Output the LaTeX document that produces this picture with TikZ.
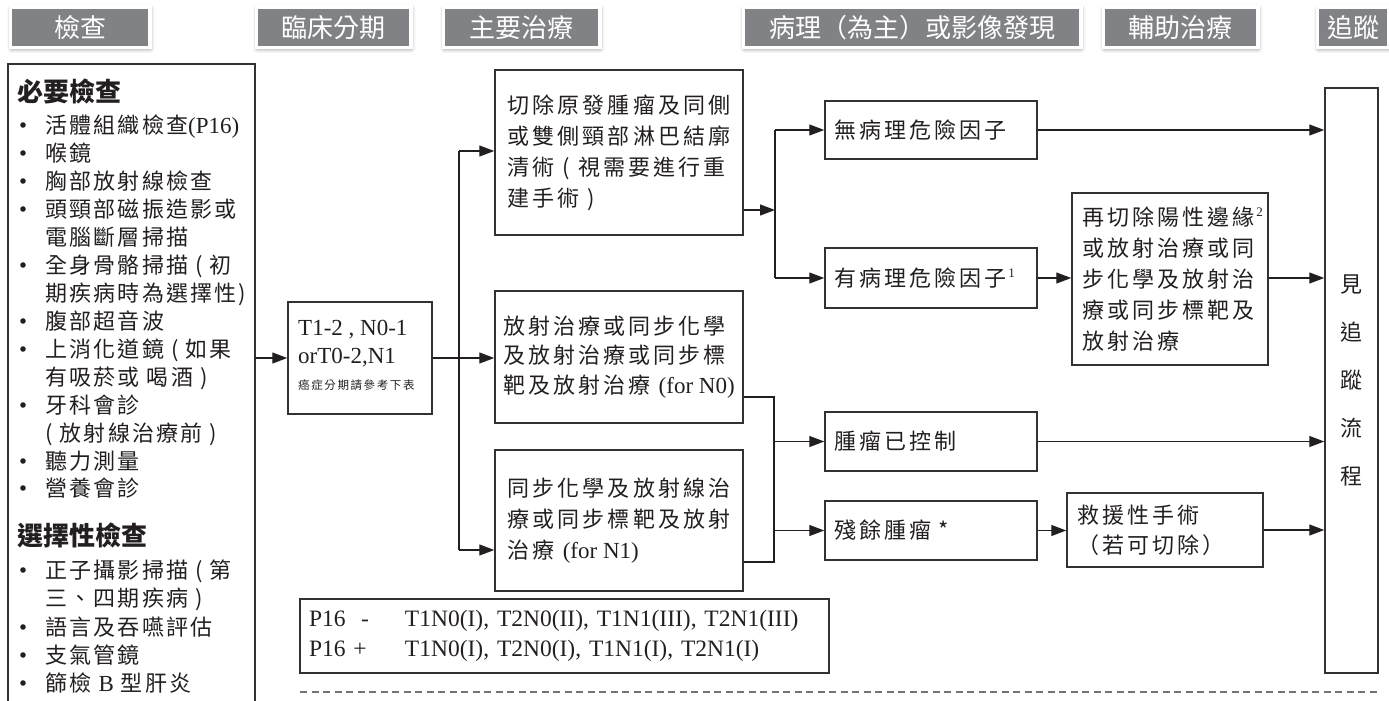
\documentclass[tikz,border=0pt]{standalone}
\usepackage{fontspec}
\setmainfont{Liberation Serif}
\newfontfamily\cjk{Noto Sans CJK TC}[LetterSpace=14]
\newfontfamily\cjkl{Noto Sans CJK TC}[LetterSpace=10]
\newfontfamily\cjkt{Noto Sans CJK TC}
\usetikzlibrary{arrows.meta,shadows.blur}
\definecolor{tabgray}{RGB}{128,130,133}
\definecolor{ink}{RGB}{35,31,32}
\definecolor{edge}{RGB}{50,50,50}
\definecolor{dashc}{RGB}{115,115,115}
\newcommand\cjkbody{\cjk\fontsize{22}{31}\selectfont}
\newcommand\lat{\rmfamily\fontsize{23}{31}\selectfont}
\newcommand\supnum[1]{\rlap{\kern2pt\rmfamily\fontsize{13}{13}\selectfont\raisebox{9pt}{#1}}}
\begin{document}
\begin{tikzpicture}[x=1pt,y=-1pt,
  box/.style={draw=edge, line width=1.5pt, inner sep=0pt, text=ink, font=\cjkbody},
  arr/.style={draw=ink, line width=1.3pt, -{Triangle[length=15pt,width=11pt]}},
  ln/.style={draw=ink, line width=1.3pt},
  tab/.style={fill=tabgray, draw=white, line width=3.5pt, text=white, inner sep=0pt,
    minimum height=40.5pt, font=\cjkt\fontsize{26}{26}\selectfont,
    blur shadow={shadow xshift=0.8pt, shadow yshift=-1.2pt, shadow blur radius=4pt, shadow opacity=45}},
  item/.style={anchor=base west, inner sep=0pt, text=ink, font=\cjkl\fontsize{22}{28}\selectfont},
  head/.style={anchor=base west, inner sep=0pt, text=ink, font=\cjkt\bfseries\fontsize{26}{26}\selectfont},
  dashln/.style={draw=dashc, line width=1.1pt, dash pattern=on 7pt off 4.5pt}
]
\useasboundingbox (0,0) rectangle (1389,701);

% header tabs
\node[tab, minimum width=139.5pt] (t1) at (80,27.5) {檢查};
\node[tab, minimum width=154.5pt] (t2) at (333.5,27.5) {臨床分期};
\node[tab, minimum width=156.5pt] (t3) at (521.5,27.5) {主要治療};
\node[tab, minimum width=337.5pt] (t4) at (912,27.5) {病理（為主）或影像發現};
\node[tab, minimum width=154.5pt] (t5) at (1180.5,27.5) {輔助治療};
\node[tab, minimum width=71.5pt] (t6) at (1353,27.5) {追蹤};

% left examination box (open at the bottom)
\node[draw=none, minimum width=247pt, minimum height=642pt, inner sep=0pt] (exam) at (131.5,385) {};
\draw[draw=edge, line width=1.6pt] (exam.south west) -- (exam.north west) -- (exam.north east) -- (exam.south east);

\node[head] (h1) at (17,101) {必要檢查};
\node[head] (h2) at (17,545) {選擇性檢查};

\foreach \y/\t in {125/{活體組織檢查{\lat(P16)}},153/{喉鏡},181/{胸部放射線檢查},
  209/{頭頸部磁振造影或},237/{電腦斷層掃描},265/{全身骨骼掃描 ( 初},293/{期疾病時為選擇性)},
  321/{腹部超音波},349/{上消化道鏡 ( 如果},377/{有吸菸或 喝酒 )},405/{牙科會診},
  433/{( 放射線治療前 )},461/{聽力測量},488/{營養會診},570/{正子攝影掃描 ( 第},
  598/{三、四期疾病 )},627/{語言及吞嚥評估},655/{支氣管鏡},683/{篩檢 {\lat B} 型肝炎}}
  {\node[item] (e\y) at (45,\y+8.5) {\t};}

\foreach \y in {125,153,181,209,265,321,349,405,461,488,570,627,655,683}
  {\fill[ink] (23,\y) circle (2.8pt);}

% clinical stage
\node[box, minimum width=144pt, minimum height=112pt] (stage) at (360,358) {};
\node[anchor=base west, inner sep=0pt, text=ink, font=\lat] (st1) at (298,335) {T1-2 , N0-1};
\node[anchor=base west, inner sep=0pt, text=ink, font=\lat] (st2) at (298,363) {orT0-2,N1};
\node[anchor=base west, inner sep=0pt, text=ink, font=\cjk\fontsize{11.5}{14}\selectfont] (st3) at (298,389.5) {癌症分期請參考下表};

% main treatment boxes
\node[box, minimum width=248pt, minimum height=165pt, align=left] (b1) at (619,152.5)
  {切除原發腫瘤及同側\\或雙側頸部淋巴結廓\\清術 ( 視需要進行重\\建手術 )};
\node[box, minimum width=248pt, minimum height=132pt, align=left, font=\cjk\fontsize{22}{29.5}\selectfont] (b2) at (619,357)
  {放射治療或同步化學\\及放射治療或同步標\\靶及放射治療 {\lat(for N0)}};
\node[box, minimum width=248pt, minimum height=141pt, align=left] (b3) at (619,520.5)
  {同步化學及放射線治\\療或同步標靶及放射\\治療 {\lat(for N1)}};

% stage table
\node[box, minimum width=529pt, minimum height=74pt, text width=511pt, align=left,
  font=\rmfamily\fontsize{23.5}{30}\selectfont] (tbl) at (564.5,636)
  {\makebox[96pt][l]{P16\ \ -}T1N0(I), T2N0(II), T1N1(III), T2N1(III)\\\makebox[96pt][l]{P16 +}T1N0(I), T2N0(I), T1N1(I), T2N1(I)};

% findings
\node[box, minimum width=212pt, minimum height=58pt, text width=194pt, align=left] (n1) at (931,130) {無病理危險因子};
\node[box, minimum width=212pt, minimum height=60pt, text width=194pt, align=left] (n2) at (931,278) {有病理危險因子\supnum{1}};
\node[box, minimum width=212pt, minimum height=59pt, text width=194pt, align=left] (n4) at (931,441.5) {腫瘤已控制};
\node[box, minimum width=212pt, minimum height=59pt, text width=194pt, align=left] (n5) at (931,530.5) {殘餘腫瘤 *};

% adjuvant
\node[box, minimum width=196pt, minimum height=172pt, text width=176pt, align=left] (n3) at (1170,279)
  {再切除陽性邊緣\supnum{2}\\或放射治療或同\\步化學及放射治\\療或同步標靶及\\放射治療};
\node[box, minimum width=196pt, minimum height=74pt, text width=176pt, align=left, font=\cjk\fontsize{22}{30}\selectfont] (n6) at (1165,530)
  {救援性手術\\（若可切除）};

% follow-up
\node[box, minimum width=53pt, minimum height=585pt, align=center, font=\cjkt\fontsize{22}{48}\selectfont] (fu) at (1351.5,380.5)
  {見\\追\\蹤\\流\\程};

% connectors
\draw[arr] (stage.west -| exam.east) -- (stage.west);
\draw[arr] (stage.east) -- (stage.east -| b2.west);
\coordinate (s1) at (459,151);
\coordinate (s3) at (459,550);
\draw[ln] (s1) -- (s3);
\draw[arr] (s1) -- (s1 -| b1.west);
\draw[arr] (s3) -- (s3 -| b3.west);

\coordinate (j1) at (775,210);
\draw[arr] (b1.east |- j1) -- (j1);
\draw[ln] (n1.west -| j1) -- (n2.west -| j1);
\draw[arr] (n1.west -| j1) -- (n1.west);
\draw[arr] (n2.west -| j1) -- (n2.west);
\draw[arr] (n1.east) -- (n1.east -| fu.west);
\draw[arr] (n2.east) -- (n2.east -| n3.west);
\draw[arr] (n3.east |- n2.east) -- (n2.east -| fu.west);

\coordinate (c2) at (774,397);
\coordinate (c3) at (774,562);
\draw[ln] (b2.east |- c2) -- (c2) -- (c3) -- (b3.east |- c3);
\draw[arr] (c2 |- n4.west) -- (n4.west);
\draw[arr] (c2 |- n5.west) -- (n5.west);
\draw[arr] (n4.east) -- (n4.east -| fu.west);
\draw[arr] (n5.east) -- (n5.east -| n6.west);
\draw[arr] (n6.east) -- (n6.east -| fu.west);

\coordinate (dA) at (300,692);
\coordinate (dB) at (1378,692);
\draw[dashln] (dA) -- (dB);
\end{tikzpicture}
\end{document}
